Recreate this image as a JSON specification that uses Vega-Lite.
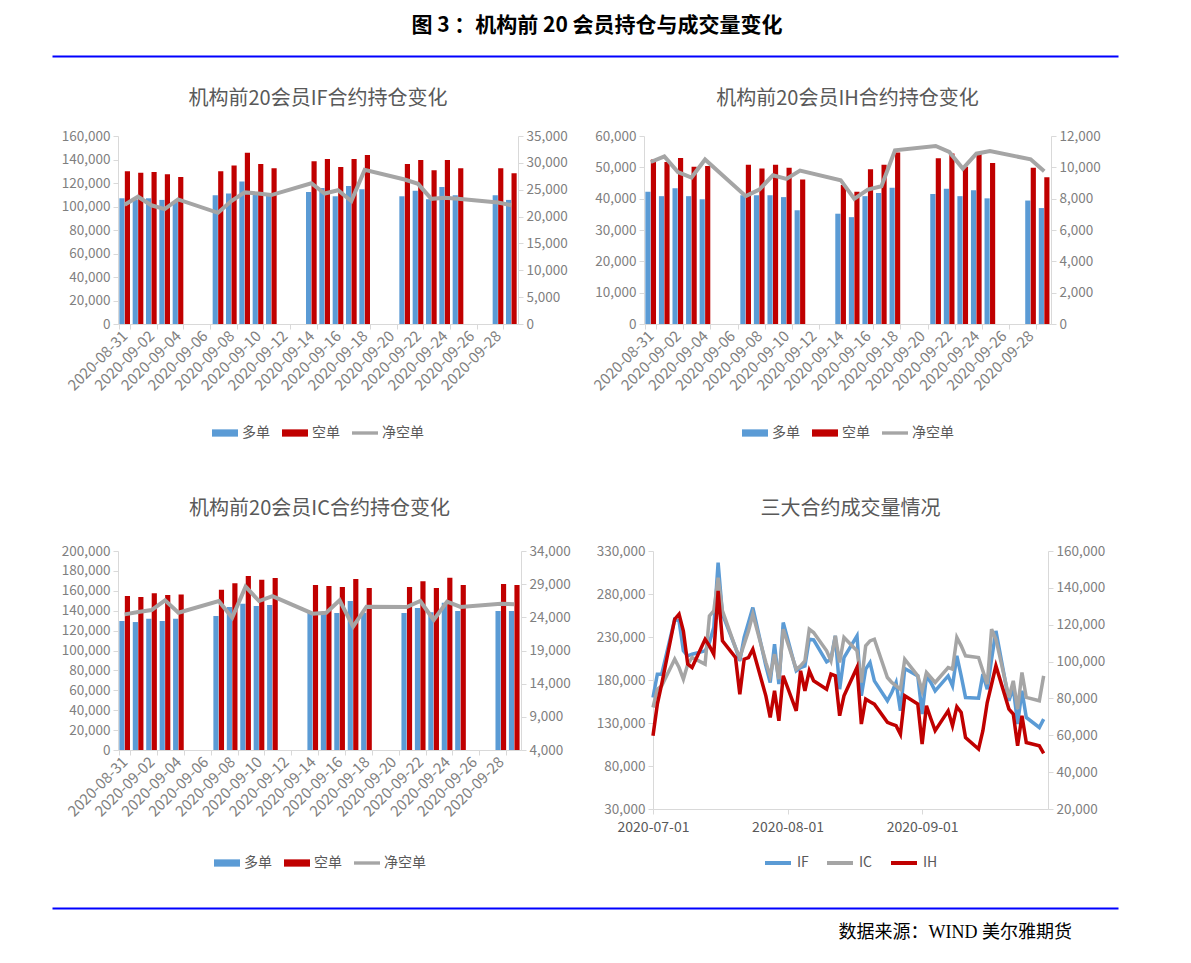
{
  "$schema": "https://vega.github.io/schema/vega-lite/v6.json",
  "padding": {"left": 52, "top": 14, "right": 0, "bottom": 0},
  "background": "white",
  "config": {
    "font": "Noto Sans CJK SC",
    "view": {"stroke": null},
    "axis": {"domainColor": "#D9D9D9", "tickColor": "#D9D9D9", "labelColor": "#7F7F7F", "labelFontSize": 13.5, "grid": false, "tickSize": 5, "labelPadding": 3},
    "legend": {"labelColor": "#595959", "labelFontSize": 14, "orient": "bottom", "direction": "horizontal", "title": null, "layout": {"bottom": {"anchor": "middle"}}},
    "title": {"color": "#595959", "fontSize": 20, "fontWeight": "normal", "anchor": "middle"}
  },
  "datasets": {
    "IF": [
      {"d": "2020-08-31", "多单": 107000, "空单": 130000, "净空单": 22200},
      {"d": "2020-09-01", "多单": 106000, "空单": 128800, "净空单": 23700},
      {"d": "2020-09-02", "多单": 107000, "空单": 129400, "净空单": 22100},
      {"d": "2020-09-03", "多单": 105600, "空单": 127400, "净空单": 21400},
      {"d": "2020-09-04", "多单": 104000, "空单": 125200, "净空单": 23200},
      {"d": "2020-09-07", "多单": 109600, "空单": 130000, "净空单": 20700},
      {"d": "2020-09-08", "多单": 111000, "空单": 134800, "净空单": 22900},
      {"d": "2020-09-09", "多单": 121200, "空单": 145800, "净空单": 24500},
      {"d": "2020-09-10", "多单": 112400, "空单": 136200, "净空单": 24300},
      {"d": "2020-09-11", "多单": 109600, "空单": 132500, "净空单": 24000},
      {"d": "2020-09-14", "多单": 112400, "空单": 138500, "净空单": 26200},
      {"d": "2020-09-15", "多单": 115800, "空单": 140500, "净空单": 24300},
      {"d": "2020-09-16", "多单": 108700, "空单": 133700, "净空单": 24900},
      {"d": "2020-09-17", "多单": 117500, "空单": 140500, "净空单": 22900},
      {"d": "2020-09-18", "多单": 114700, "空单": 143900, "净空单": 28700},
      {"d": "2020-09-21", "多单": 108700, "空单": 136200, "净空单": 26900},
      {"d": "2020-09-22", "多单": 113300, "空单": 139600, "净空单": 26100},
      {"d": "2020-09-23", "多单": 106200, "空单": 130800, "净空单": 23300},
      {"d": "2020-09-24", "多单": 116700, "空单": 139600, "净空单": 23500},
      {"d": "2020-09-25", "多单": 109600, "空单": 132500, "净空单": 23300},
      {"d": "2020-09-28", "多单": 109600, "空单": 132500, "净空单": 22600},
      {"d": "2020-09-29", "多单": 105600, "空单": 128300, "净空单": 22100}
    ],
    "IH": [
      {"d": "2020-08-31", "多单": 42200, "空单": 52500, "净空单": 10340},
      {"d": "2020-09-01", "多单": 40800, "空单": 51700, "净空单": 10700},
      {"d": "2020-09-02", "多单": 43300, "空单": 53000, "净空单": 9700},
      {"d": "2020-09-03", "多单": 40800, "空单": 50200, "净空单": 9350},
      {"d": "2020-09-04", "多单": 39800, "空单": 50400, "净空单": 10500},
      {"d": "2020-09-07", "多单": 41100, "空单": 50800, "净空单": 8160},
      {"d": "2020-09-08", "多单": 41100, "空单": 49600, "净空单": 8580},
      {"d": "2020-09-09", "多单": 41100, "空单": 50800, "净空单": 9490},
      {"d": "2020-09-10", "多单": 40500, "空单": 49900, "净空单": 9260},
      {"d": "2020-09-11", "多单": 36300, "空单": 46100, "净空单": 9790},
      {"d": "2020-09-14", "多单": 35200, "空单": 44400, "净空单": 9180},
      {"d": "2020-09-15", "多单": 34100, "空单": 42200, "净空单": 7990},
      {"d": "2020-09-16", "多单": 40800, "空单": 49400, "净空单": 8580},
      {"d": "2020-09-17", "多单": 41800, "空单": 50800, "净空单": 8790},
      {"d": "2020-09-18", "多单": 43500, "空单": 54700, "净空单": 11090},
      {"d": "2020-09-21", "多单": 41500, "空单": 52900, "净空单": 11360},
      {"d": "2020-09-22", "多单": 43200, "空单": 54400, "净空单": 10980},
      {"d": "2020-09-23", "多单": 40800, "空单": 50200, "净空单": 9920},
      {"d": "2020-09-24", "多单": 42700, "空单": 54600, "净空单": 10870},
      {"d": "2020-09-25", "多单": 40100, "空单": 51400, "净空单": 11040},
      {"d": "2020-09-28", "多单": 39400, "空单": 49900, "净空单": 10510},
      {"d": "2020-09-29", "多单": 37000, "空单": 46800, "净空单": 9750}
    ],
    "IC": [
      {"d": "2020-08-31", "多单": 129600, "空单": 154800, "净空单": 24450},
      {"d": "2020-09-01", "多单": 128600, "空单": 153800, "净空单": 24800},
      {"d": "2020-09-02", "多单": 132000, "空单": 157500, "净空单": 25100},
      {"d": "2020-09-03", "多单": 129600, "空单": 155800, "净空单": 26560},
      {"d": "2020-09-04", "多单": 132000, "空单": 156400, "净空单": 24700},
      {"d": "2020-09-07", "多单": 134700, "空单": 161100, "净空单": 26460},
      {"d": "2020-09-08", "多单": 143700, "空单": 167500, "净空单": 23950},
      {"d": "2020-09-09", "多单": 147000, "空单": 174900, "净空单": 28620},
      {"d": "2020-09-10", "多单": 144700, "空单": 171200, "净空单": 26460},
      {"d": "2020-09-11", "多单": 145700, "空单": 172900, "净空单": 27200},
      {"d": "2020-09-14", "多单": 138000, "空单": 165800, "净空单": 24550},
      {"d": "2020-09-15", "多单": 138000, "空单": 164800, "净空单": 24700},
      {"d": "2020-09-16", "多单": 137700, "空单": 163800, "净空单": 26560},
      {"d": "2020-09-17", "多单": 149700, "空单": 171900, "净空单": 22600},
      {"d": "2020-09-18", "多单": 138000, "空单": 162800, "净空单": 25600},
      {"d": "2020-09-21", "多单": 137700, "空单": 163800, "净空单": 25560},
      {"d": "2020-09-22", "多单": 142700, "空单": 169500, "净空单": 26460},
      {"d": "2020-09-23", "多单": 138400, "空单": 162800, "净空单": 23600},
      {"d": "2020-09-24", "多单": 148000, "空单": 173200, "净空单": 26360},
      {"d": "2020-09-25", "多单": 139700, "空单": 165800, "净空单": 25560},
      {"d": "2020-09-28", "多单": 139700, "空单": 166800, "净空单": 26060},
      {"d": "2020-09-29", "多单": 139700, "空单": 165800, "净空单": 25960}
    ],
    "VOL": [
      {"d": "2020-07-01", "IF": 159700, "IC": 148000, "IH": 59700},
      {"d": "2020-07-02", "IF": 186800, "IC": 169300, "IH": 76900},
      {"d": "2020-07-03", "IF": 186800, "IC": 173200, "IH": 87700},
      {"d": "2020-07-06", "IF": 250600, "IC": 204200, "IH": 123000},
      {"d": "2020-07-07", "IF": 248700, "IC": 194500, "IH": 125700},
      {"d": "2020-07-08", "IF": 213900, "IC": 181000, "IH": 116600},
      {"d": "2020-07-09", "IF": 208100, "IC": 198400, "IH": 98600},
      {"d": "2020-07-10", "IF": 210000, "IC": 206100, "IH": 96800},
      {"d": "2020-07-13", "IF": 213900, "IC": 198400, "IH": 112100},
      {"d": "2020-07-14", "IF": 223500, "IC": 254500, "IH": 108500},
      {"d": "2020-07-15", "IF": 241000, "IC": 260300, "IH": 104000},
      {"d": "2020-07-16", "IF": 316500, "IC": 299000, "IH": 138300},
      {"d": "2020-07-17", "IF": 256500, "IC": 260300, "IH": 111200},
      {"d": "2020-07-20", "IF": 217700, "IC": 217700, "IH": 102200},
      {"d": "2020-07-21", "IF": 202300, "IC": 206100, "IH": 82300},
      {"d": "2020-07-22", "IF": 229400, "IC": 221600, "IH": 101300},
      {"d": "2020-07-23", "IF": 246800, "IC": 237100, "IH": 102200},
      {"d": "2020-07-24", "IF": 264200, "IC": 256500, "IH": 106700},
      {"d": "2020-07-27", "IF": 196400, "IC": 200300, "IH": 81400},
      {"d": "2020-07-28", "IF": 177100, "IC": 184800, "IH": 69700},
      {"d": "2020-07-29", "IF": 221600, "IC": 210000, "IH": 84100},
      {"d": "2020-07-30", "IF": 175200, "IC": 181000, "IH": 67900},
      {"d": "2020-07-31", "IF": 246800, "IC": 239000, "IH": 92300},
      {"d": "2020-08-03", "IF": 190600, "IC": 192600, "IH": 73300},
      {"d": "2020-08-04", "IF": 194500, "IC": 196400, "IH": 95000},
      {"d": "2020-08-05", "IF": 196400, "IC": 202300, "IH": 84100},
      {"d": "2020-08-06", "IF": 227400, "IC": 239000, "IH": 95000},
      {"d": "2020-08-07", "IF": 226600, "IC": 235200, "IH": 89600},
      {"d": "2020-08-10", "IF": 201100, "IC": 213900, "IH": 85000},
      {"d": "2020-08-11", "IF": 204200, "IC": 202300, "IH": 93200},
      {"d": "2020-08-12", "IF": 231300, "IC": 231300, "IH": 92300},
      {"d": "2020-08-13", "IF": 169300, "IC": 200300, "IH": 70600},
      {"d": "2020-08-14", "IF": 206100, "IC": 229400, "IH": 81400},
      {"d": "2020-08-17", "IF": 231300, "IC": 213900, "IH": 96800},
      {"d": "2020-08-18", "IF": 161600, "IC": 177100, "IH": 66100},
      {"d": "2020-08-19", "IF": 192600, "IC": 219700, "IH": 79600},
      {"d": "2020-08-20", "IF": 200300, "IC": 225500, "IH": 78200},
      {"d": "2020-08-21", "IF": 179000, "IC": 227400, "IH": 76900},
      {"d": "2020-08-24", "IF": 155800, "IC": 182900, "IH": 67000},
      {"d": "2020-08-25", "IF": 165500, "IC": 177100, "IH": 66100},
      {"d": "2020-08-26", "IF": 177100, "IC": 173200, "IH": 65200},
      {"d": "2020-08-27", "IF": 144200, "IC": 169300, "IH": 60600},
      {"d": "2020-08-28", "IF": 193300, "IC": 204200, "IH": 81400},
      {"d": "2020-08-31", "IF": 184800, "IC": 184800, "IH": 76900},
      {"d": "2020-09-01", "IF": 140300, "IC": 167400, "IH": 55200},
      {"d": "2020-09-02", "IF": 184800, "IC": 188700, "IH": 76000},
      {"d": "2020-09-03", "IF": 177100, "IC": 182900, "IH": 69100},
      {"d": "2020-09-04", "IF": 167400, "IC": 177100, "IH": 62500},
      {"d": "2020-09-07", "IF": 184800, "IC": 194500, "IH": 73300},
      {"d": "2020-09-08", "IF": 173200, "IC": 192600, "IH": 65200},
      {"d": "2020-09-09", "IF": 208100, "IC": 229400, "IH": 75500},
      {"d": "2020-09-10", "IF": 184800, "IC": 219700, "IH": 72400},
      {"d": "2020-09-11", "IF": 159700, "IC": 208100, "IH": 58800},
      {"d": "2020-09-14", "IF": 158900, "IC": 206100, "IH": 52500},
      {"d": "2020-09-15", "IF": 186800, "IC": 190600, "IH": 62500},
      {"d": "2020-09-16", "IF": 169300, "IC": 175200, "IH": 77800},
      {"d": "2020-09-17", "IF": 204200, "IC": 239000, "IH": 87700},
      {"d": "2020-09-18", "IF": 237100, "IC": 227400, "IH": 97700},
      {"d": "2020-09-21", "IF": 155800, "IC": 159700, "IH": 74200},
      {"d": "2020-09-22", "IF": 171300, "IC": 179000, "IH": 71500},
      {"d": "2020-09-23", "IF": 128700, "IC": 146100, "IH": 54300},
      {"d": "2020-09-24", "IF": 167400, "IC": 188700, "IH": 70600},
      {"d": "2020-09-25", "IF": 136400, "IC": 159700, "IH": 56100},
      {"d": "2020-09-28", "IF": 124800, "IC": 155800, "IH": 54300},
      {"d": "2020-09-29", "IF": 134500, "IC": 184800, "IH": 50200}
    ]
  },
  "columns": 1,
  "spacing": 29,
  "resolve": {"scale": {"color": "independent"}, "legend": {"color": "independent"}},
  "concat": [
    {
      "width": 1066, "height": 1,
      "data": {"values": [{"v": 0}]},
      "mark": {"type": "point", "opacity": 0},
      "encoding": {"x": {"field": "v", "type": "quantitative", "scale": {"domain": [0, 1]}, "axis": {"orient": "top", "position": -66, "title": null, "labels": false, "ticks": false, "domainColor": "#0000FF", "domainWidth": 2}}},
      "title": {"text": "图 3 ：机构前 20 会员持仓与成交量变化", "color": "#000000", "fontSize": 21, "fontWeight": "bold", "offset": 18, "dx": -54}
    },
    {
      "spacing": 59,
      "resolve": {"scale": {"color": "independent"}, "legend": {"color": "independent"}},
      "vconcat": [
        {
          "spacing": 23,
          "resolve": {"scale": {"color": "independent"}, "legend": {"color": "independent"}},
          "hconcat": [
            {
              "title": {"text": "机构前20会员IF合约持仓变化", "offset": 20},
              "width": 400, "height": 188,
              "data": {"name": "IF"},
              "transform": [{"fold": ["多单", "空单", "净空单"], "as": ["s", "v"]}],
              "encoding": {
                "x": {"field": "d", "type": "ordinal", "scale": {"domain": ["2020-08-31","2020-09-01","2020-09-02","2020-09-03","2020-09-04","2020-09-05","2020-09-06","2020-09-07","2020-09-08","2020-09-09","2020-09-10","2020-09-11","2020-09-12","2020-09-13","2020-09-14","2020-09-15","2020-09-16","2020-09-17","2020-09-18","2020-09-19","2020-09-20","2020-09-21","2020-09-22","2020-09-23","2020-09-24","2020-09-25","2020-09-26","2020-09-27","2020-09-28","2020-09-29"], "paddingInner": 0.2, "paddingOuter": 0.1}, "axis": {"title": null, "values": ["2020-08-31","2020-09-02","2020-09-04","2020-09-06","2020-09-08","2020-09-10","2020-09-12","2020-09-14","2020-09-16","2020-09-18","2020-09-20","2020-09-22","2020-09-24","2020-09-26","2020-09-28"], "tickBand": "extent", "labelAngle": -45, "labelAlign": "right", "labelBaseline": "middle", "labelFontSize": 15, "labelPadding": 4}},
                "color": {"field": "s", "type": "nominal", "scale": {"domain": ["多单", "空单", "净空单"], "range": ["#5B9BD5", "#C00000", "#A5A5A5"]}, "legend": {"offset": 26, "columnPadding": 12, "encode": {"symbols": {"update": {"shape": {"signal": "datum.value === '净空单' ? 'M-1,-0.13L1,-0.13L1,0.13L-1,0.13Z' : 'M-1,-0.28L1,-0.28L1,0.28L-1,0.28Z'"}, "fill": {"signal": "datum.value === '多单' ? '#5B9BD5' : datum.value === '空单' ? '#C00000' : '#A5A5A5'"}, "strokeWidth": {"value": 0}, "size": {"value": 676}, "opacity": {"value": 1}}}}}}
              },
              "layer": [
                {"transform": [{"filter": "datum.s !== '净空单'"}], "mark": {"type": "bar"}, "encoding": {"xOffset": {"field": "s", "type": "nominal", "sort": ["多单", "空单"], "scale": {"paddingInner": 0.06}}, "y": {"field": "v", "type": "quantitative", "scale": {"domain": [0, 160000]}, "axis": {"title": null, "minExtent": 66, "values": [0,20000,40000,60000,80000,100000,120000,140000,160000], "format": ",d"}}}},
                {"transform": [{"filter": "datum.s === '净空单'"}], "mark": {"type": "line", "strokeWidth": 4}, "encoding": {"y": {"field": "v", "type": "quantitative", "scale": {"domain": [0, 35000]}, "axis": {"title": null, "orient": "right", "values": [0,5000,10000,15000,20000,25000,30000,35000], "format": ",d"}}}}
              ],
              "resolve": {"scale": {"y": "independent"}}
            },
            {
              "title": {"text": "机构前20会员IH合约持仓变化", "offset": 20},
              "width": 407, "height": 188,
              "data": {"name": "IH"},
              "transform": [{"fold": ["多单", "空单", "净空单"], "as": ["s", "v"]}],
              "encoding": {
                "x": {"field": "d", "type": "ordinal", "scale": {"domain": ["2020-08-31","2020-09-01","2020-09-02","2020-09-03","2020-09-04","2020-09-05","2020-09-06","2020-09-07","2020-09-08","2020-09-09","2020-09-10","2020-09-11","2020-09-12","2020-09-13","2020-09-14","2020-09-15","2020-09-16","2020-09-17","2020-09-18","2020-09-19","2020-09-20","2020-09-21","2020-09-22","2020-09-23","2020-09-24","2020-09-25","2020-09-26","2020-09-27","2020-09-28","2020-09-29"], "paddingInner": 0.2, "paddingOuter": 0.1}, "axis": {"title": null, "values": ["2020-08-31","2020-09-02","2020-09-04","2020-09-06","2020-09-08","2020-09-10","2020-09-12","2020-09-14","2020-09-16","2020-09-18","2020-09-20","2020-09-22","2020-09-24","2020-09-26","2020-09-28"], "tickBand": "extent", "labelAngle": -45, "labelAlign": "right", "labelBaseline": "middle", "labelFontSize": 15, "labelPadding": 4}},
                "color": {"field": "s", "type": "nominal", "scale": {"domain": ["多单", "空单", "净空单"], "range": ["#5B9BD5", "#C00000", "#A5A5A5"]}, "legend": {"offset": 26, "columnPadding": 12, "encode": {"symbols": {"update": {"shape": {"signal": "datum.value === '净空单' ? 'M-1,-0.13L1,-0.13L1,0.13L-1,0.13Z' : 'M-1,-0.28L1,-0.28L1,0.28L-1,0.28Z'"}, "fill": {"signal": "datum.value === '多单' ? '#5B9BD5' : datum.value === '空单' ? '#C00000' : '#A5A5A5'"}, "strokeWidth": {"value": 0}, "size": {"value": 676}, "opacity": {"value": 1}}}}}}
              },
              "layer": [
                {"transform": [{"filter": "datum.s !== '净空单'"}], "mark": {"type": "bar"}, "encoding": {"xOffset": {"field": "s", "type": "nominal", "sort": ["多单", "空单"], "scale": {"paddingInner": 0.06}}, "y": {"field": "v", "type": "quantitative", "scale": {"domain": [0, 60000]}, "axis": {"title": null, "values": [0,10000,20000,30000,40000,50000,60000], "format": ",d"}}}},
                {"transform": [{"filter": "datum.s === '净空单'"}], "mark": {"type": "line", "strokeWidth": 4}, "encoding": {"y": {"field": "v", "type": "quantitative", "scale": {"domain": [0, 12000]}, "axis": {"title": null, "orient": "right", "values": [0,2000,4000,6000,8000,10000,12000], "format": ",d"}}}}
              ],
              "resolve": {"scale": {"y": "independent"}}
            }
          ]
        },
        {
          "spacing": 25,
          "resolve": {"scale": {"color": "independent"}, "legend": {"color": "independent"}},
          "hconcat": [
            {
              "title": {"text": "机构前20会员IC合约持仓变化", "offset": 25},
              "width": 403, "height": 199,
              "data": {"name": "IC"},
              "transform": [{"fold": ["多单", "空单", "净空单"], "as": ["s", "v"]}],
              "encoding": {
                "x": {"field": "d", "type": "ordinal", "scale": {"domain": ["2020-08-31","2020-09-01","2020-09-02","2020-09-03","2020-09-04","2020-09-05","2020-09-06","2020-09-07","2020-09-08","2020-09-09","2020-09-10","2020-09-11","2020-09-12","2020-09-13","2020-09-14","2020-09-15","2020-09-16","2020-09-17","2020-09-18","2020-09-19","2020-09-20","2020-09-21","2020-09-22","2020-09-23","2020-09-24","2020-09-25","2020-09-26","2020-09-27","2020-09-28","2020-09-29"], "paddingInner": 0.2, "paddingOuter": 0.1}, "axis": {"title": null, "values": ["2020-08-31","2020-09-02","2020-09-04","2020-09-06","2020-09-08","2020-09-10","2020-09-12","2020-09-14","2020-09-16","2020-09-18","2020-09-20","2020-09-22","2020-09-24","2020-09-26","2020-09-28"], "tickBand": "extent", "labelAngle": -45, "labelAlign": "right", "labelBaseline": "middle", "labelFontSize": 15, "labelPadding": 4}},
                "color": {"field": "s", "type": "nominal", "scale": {"domain": ["多单", "空单", "净空单"], "range": ["#5B9BD5", "#C00000", "#A5A5A5"]}, "legend": {"offset": 30, "columnPadding": 12, "encode": {"symbols": {"update": {"shape": {"signal": "datum.value === '净空单' ? 'M-1,-0.13L1,-0.13L1,0.13L-1,0.13Z' : 'M-1,-0.28L1,-0.28L1,0.28L-1,0.28Z'"}, "fill": {"signal": "datum.value === '多单' ? '#5B9BD5' : datum.value === '空单' ? '#C00000' : '#A5A5A5'"}, "strokeWidth": {"value": 0}, "size": {"value": 676}, "opacity": {"value": 1}}}}}}
              },
              "layer": [
                {"transform": [{"filter": "datum.s !== '净空单'"}], "mark": {"type": "bar"}, "encoding": {"xOffset": {"field": "s", "type": "nominal", "sort": ["多单", "空单"], "scale": {"paddingInner": 0.06}}, "y": {"field": "v", "type": "quantitative", "scale": {"domain": [0, 200000]}, "axis": {"title": null, "minExtent": 65, "values": [0,20000,40000,60000,80000,100000,120000,140000,160000,180000,200000], "format": ",d"}}}},
                {"transform": [{"filter": "datum.s === '净空单'"}], "mark": {"type": "line", "strokeWidth": 4}, "encoding": {"y": {"field": "v", "type": "quantitative", "scale": {"domain": [4000, 34000]}, "axis": {"title": null, "orient": "right", "values": [4000,9000,14000,19000,24000,29000,34000], "format": ",d"}}}}
              ],
              "resolve": {"scale": {"y": "independent"}}
            },
            {
              "title": {"text": "三大合约成交量情况", "offset": 25},
              "width": 395, "height": 258,
              "data": {"name": "VOL"},
              "transform": [{"fold": ["IF", "IC", "IH"], "as": ["s", "v"]}],
              "encoding": {
                "x": {"field": "d", "type": "temporal", "scale": {"type": "utc", "domain": [{"year": 2020, "month": 7, "date": 1, "utc": true}, {"year": 2020, "month": 9, "date": 30, "utc": true}]}, "axis": {"title": null, "values": [{"year": 2020, "month": 7, "date": 1, "utc": true}, {"year": 2020, "month": 8, "date": 1, "utc": true}, {"year": 2020, "month": 9, "date": 1, "utc": true}], "format": "%Y-%m-%d", "labelColor": "#595959", "labelFontSize": 14, "labelFlush": false, "labelPadding": 6}},
                "color": {"field": "s", "type": "nominal", "scale": {"domain": ["IF", "IC", "IH"], "range": ["#5B9BD5", "#A5A5A5", "#C00000"]}, "legend": {"offset": 14, "columnPadding": 10, "symbolType": "stroke", "symbolStrokeWidth": 4, "symbolSize": 676}}
              },
              "layer": [
                {"transform": [{"filter": "datum.s !== 'IH'"}], "mark": {"type": "line", "strokeWidth": 3.5}, "encoding": {"y": {"field": "v", "type": "quantitative", "scale": {"domain": [30000, 330000]}, "axis": {"title": null, "values": [30000,80000,130000,180000,230000,280000,330000], "format": ",d"}}}},
                {"transform": [{"filter": "datum.s === 'IH'"}], "mark": {"type": "line", "strokeWidth": 3.5}, "encoding": {"y": {"field": "v", "type": "quantitative", "scale": {"domain": [20000, 160000]}, "axis": {"title": null, "orient": "right", "values": [20000,40000,60000,80000,100000,120000,140000,160000], "format": ",d"}}}}
              ],
              "resolve": {"scale": {"y": "independent"}}
            }
          ]
        }
      ]
    },
    {
      "width": 1066, "height": 8,
      "data": {"values": [{"v": 0}]},
      "mark": {"type": "point", "opacity": 0},
      "encoding": {"x": {"field": "v", "type": "quantitative", "scale": {"domain": [0, 1]}, "axis": {"orient": "bottom", "position": -66, "title": null, "labels": false, "ticks": false, "domainColor": "#0000FF", "domainWidth": 2}}},
      "title": {"text": "数据来源：WIND 美尔雅期货", "orient": "bottom", "anchor": "end", "dx": -112, "offset": 16, "font": "Liberation Serif, Noto Sans CJK SC", "fontSize": 18, "color": "#000000"}
    }
  ]
}
